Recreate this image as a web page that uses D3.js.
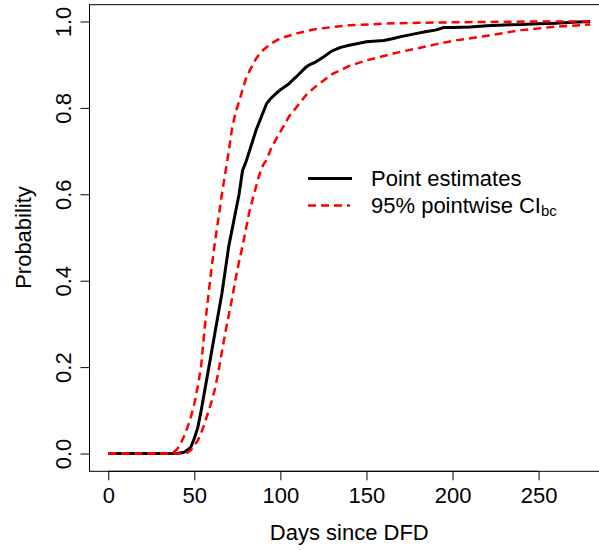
<!DOCTYPE html>
<html lang="en">
<head>
<meta charset="UTF-8">
<script src="https://d3js.org/d3.v7.min.js"></script>
<style>
  body { margin: 0; background: #fff; }
  svg text { font-family: "Liberation Sans", Arial, Helvetica, sans-serif; fill: #000; }
</style>
</head>
<body>
<div id="chart"></div>
<script>
// point estimates (black)
const estDays = [0, 40, 44, 46, 48, 50, 52, 54, 56, 58, 60, 62, 64, 66, 68, 70, 72, 74, 76, 78,
  80, 82, 84, 86, 88, 90, 92, 94, 96, 100, 105, 110, 115, 118, 120, 125, 130, 135, 140, 150,
  160, 165, 170, 175, 180, 185, 190, 195, 200, 210, 220, 230, 240, 250, 260, 270, 280];
const estProb = [0, 0, 0.003, 0.008, 0.015, 0.035, 0.06, 0.1, 0.145, 0.19, 0.235, 0.28, 0.325, 0.37, 0.425, 0.48, 0.52, 0.56, 0.6, 0.655,
  0.675, 0.7, 0.725, 0.75, 0.77, 0.79, 0.81, 0.82, 0.828, 0.842, 0.856, 0.875, 0.895, 0.902, 0.905, 0.918, 0.932, 0.94, 0.945, 0.953,
  0.956, 0.96, 0.965, 0.969, 0.973, 0.977, 0.98, 0.986, 0.986, 0.987, 0.99, 0.992, 0.993, 0.995, 0.996, 0.998, 1.0];

// upper 95% band
const upperDays = [0, 36, 38, 40, 42, 44, 46, 48, 50, 52, 54, 56, 58, 60, 62, 64, 66, 68, 70, 72,
  74, 76, 78, 80, 82, 84, 86, 88, 90, 95, 100, 110, 120, 130, 140, 160, 180, 200, 220, 250, 280];
const upperProb = [0, 0, 0.003, 0.01, 0.022, 0.04, 0.06, 0.085, 0.115, 0.155, 0.205, 0.29, 0.36, 0.43, 0.49, 0.545, 0.6, 0.65, 0.7, 0.755,
  0.79, 0.815, 0.842, 0.868, 0.885, 0.9, 0.915, 0.925, 0.934, 0.95, 0.961, 0.973, 0.982, 0.987, 0.991, 0.995, 0.997, 0.998, 0.999, 1.0, 1.0];

// lower 95% band
const lowerDays = [0, 44, 46, 48, 50, 52, 54, 56, 58, 60, 62, 64, 66, 68, 70, 72, 74, 76, 78, 80,
  82, 84, 86, 88, 90, 92, 95, 100, 105, 110, 115, 120, 130, 140, 150, 160, 170, 180, 190, 200,
  220, 240, 260, 280];
const lowerProb = [0, 0, 0.002, 0.008, 0.018, 0.03, 0.048, 0.07, 0.095, 0.12, 0.15, 0.19, 0.235, 0.28, 0.32, 0.36, 0.405, 0.445, 0.48, 0.52,
  0.56, 0.59, 0.62, 0.648, 0.668, 0.68, 0.71, 0.745, 0.78, 0.805, 0.83, 0.848, 0.878, 0.897, 0.91, 0.92, 0.93, 0.938, 0.947, 0.955,
  0.967, 0.98, 0.988, 0.993];

const xTicks = [0, 50, 100, 150, 200, 250];
const yTicks = [0, 0.2, 0.4, 0.6, 0.8, 1.0];

const width = 599, height = 550;
const plot = { left: 89, right: 609.5, top: 4.2, bottom: 470.8 };
const fontSize = 22;

const svg = d3.select("#chart").append("svg")
    .attr("width", width)
    .attr("height", height);

const x = d3.scaleLinear().domain([-11.2, 291.2]).range([plot.left, plot.right]);
const y = d3.scaleLinear().domain([-0.04, 1.04]).range([plot.bottom, plot.top]);

// box
svg.append("rect")
    .attr("x", plot.left + 0.5)
    .attr("y", plot.top + 0.5)
    .attr("width", plot.right - plot.left)
    .attr("height", plot.bottom - plot.top)
    .attr("fill", "none")
    .attr("stroke", "#000")
    .attr("stroke-width", 1);

// x axis
const xAxis = svg.append("g")
    .attr("transform", `translate(0,${plot.bottom + 0.5})`)
    .call(d3.axisBottom(x).tickValues(xTicks).tickSize(9).tickPadding(7).tickSizeOuter(0));
xAxis.select(".domain").attr("d", `M${x(0)},0H${x(250)}`);
xAxis.selectAll("text").attr("font-size", fontSize).attr("font-family", null);

// y axis, labels rotated like R's default
const yAxis = svg.append("g")
    .attr("transform", `translate(${plot.left + 0.5},0)`)
    .call(d3.axisLeft(y).tickValues(yTicks).tickSize(9).tickFormat(d3.format(".1f")).tickSizeOuter(0));
yAxis.select(".domain").attr("d", `M0,${y(0)}V${y(1)}`);
yAxis.selectAll("text")
    .attr("font-size", fontSize)
    .attr("font-family", null)
    .attr("x", null).attr("dy", null)
    .attr("text-anchor", "middle")
    .attr("transform", "translate(-19,0) rotate(-90)");

// axis titles
svg.append("text")
    .attr("x", (plot.left + plot.right) / 2)
    .attr("y", 540)
    .attr("text-anchor", "middle")
    .attr("font-size", fontSize)
    .text("Days since DFD");

svg.append("text")
    .attr("transform", `translate(31,${(plot.top + plot.bottom) / 2}) rotate(-90)`)
    .attr("text-anchor", "middle")
    .attr("font-size", fontSize)
    .text("Probability");

// curves
const line = d3.line().x(d => x(d[0])).y(d => y(d[1]));

svg.append("path")
    .datum(d3.zip(estDays, estProb))
    .attr("d", line)
    .attr("fill", "none")
    .attr("stroke", "#000")
    .attr("stroke-width", 3)
    .attr("stroke-linejoin", "round");

[[upperDays, upperProb], [lowerDays, lowerProb]].forEach(([dx, py]) => {
  svg.append("path")
      .datum(d3.zip(dx, py))
      .attr("d", line)
      .attr("fill", "none")
      .attr("stroke", "#ff0000")
      .attr("stroke-width", 2.5)
      .attr("stroke-dasharray", "8,5");
});

// legend
const legend = svg.append("g");
legend.append("line")
    .attr("x1", 308).attr("x2", 352).attr("y1", 178.5).attr("y2", 178.5)
    .attr("stroke", "#000").attr("stroke-width", 3);
legend.append("text")
    .attr("x", 371).attr("y", 186)
    .attr("font-size", fontSize)
    .text("Point estimates");
legend.append("line")
    .attr("x1", 308).attr("x2", 350).attr("y1", 205.5).attr("y2", 205.5)
    .attr("stroke", "#ff0000").attr("stroke-width", 2.5)
    .attr("stroke-dasharray", "8,5");
const ci = legend.append("text")
    .attr("x", 371).attr("y", 213)
    .attr("font-size", fontSize);
ci.append("tspan").text("95% pointwise CI");
ci.append("tspan").attr("font-size", 15).attr("dy", 3).text("bc");
</script>
</body>
</html>
